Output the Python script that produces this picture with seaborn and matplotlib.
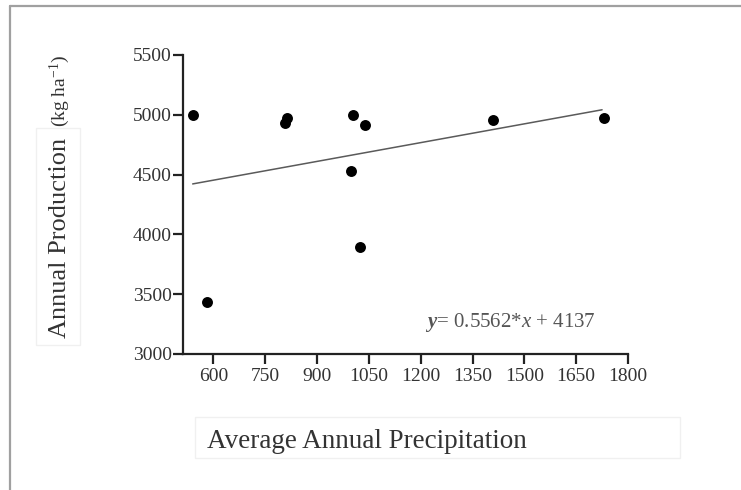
import matplotlib
matplotlib.use("Agg")
import matplotlib.pyplot as plt
import seaborn as sns
import pandas as pd
from matplotlib.patches import Rectangle
from matplotlib.lines import Line2D

# Data
precipitation = [540, 582, 807, 814, 1005, 1038, 997, 1024, 1408, 1730]
production = [5000, 3431, 4931, 4970, 5000, 4917, 4533, 3892, 4958, 4977]
fit_x = [540, 1725]
fit_y = [4422, 5042]
x_ticks = [600, 750, 900, 1050, 1200, 1350, 1500, 1650, 1800]
y_ticks = [3000, 3500, 4000, 4500, 5000, 5500]
equation = r"$\mathbf{y}$= 0.5562*$x$ + 4137"

sns.set_theme(style="white")
plt.rcParams["font.family"] = ["Liberation Serif", "DejaVu Serif"]
plt.rcParams["mathtext.fontset"] = "custom"
plt.rcParams["mathtext.rm"] = "Liberation Serif"
plt.rcParams["mathtext.it"] = "Liberation Serif:italic"
plt.rcParams["mathtext.bf"] = "Liberation Serif:bold:italic"

df = pd.DataFrame({"x": precipitation, "y": production})
fit = pd.DataFrame({"x": fit_x, "y": fit_y})

fig = plt.figure(figsize=(7.41, 4.90), dpi=100)
ax = fig.add_axes([183 / 741, 1 - 354 / 490, (628 - 183) / 741, (354 - 55) / 490])

sns.lineplot(data=fit, x="x", y="y", ax=ax, color="#5a5a5a", linewidth=1.1)
sns.scatterplot(data=df, x="x", y="y", ax=ax, color="black", s=62,
                edgecolor="black", linewidth=0, zorder=3)

ax.set_xlim(512, 1800)
ax.set_ylim(3000, 5500)
ax.set_xticks(x_ticks)
ax.set_yticks(y_ticks)
ax.set_xlabel("")
ax.set_ylabel("")
for s in ["top", "right"]:
    ax.spines[s].set_visible(False)
for s in ["left", "bottom"]:
    ax.spines[s].set_linewidth(1.6)
    ax.spines[s].set_color("#222222")
ax.tick_params(axis="both", which="major", direction="out", length=7, width=1.6,
               color="#222222", labelsize=14, labelcolor="#333333",
               bottom=True, left=True, top=False, right=False)
ax.tick_params(axis="y", pad=1)
ax.tick_params(axis="x", pad=3)

ax.text(425 / 741, 1 - 322 / 490, equation, transform=fig.transFigure,
        fontsize=15, color="#555555", va="center", ha="left")

# Axis titles (as figure text with faint boxes)
fig.text(60 / 741, 1 - 238 / 490, "Annual Production", rotation=90,
         fontsize=19, color="#333333", ha="center", va="center")
fig.text(60 / 741, 1 - 91 / 490, "(kg ha$^{-1}$)", rotation=90,
         fontsize=14, color="#333333", ha="center", va="center")
fig.text(207 / 741, 1 - 441 / 490, "Average Annual Precipitation",
         fontsize=19.5, color="#333333", ha="left", va="center")

fig.patches.append(Rectangle((36 / 741, 1 - 345 / 490), 44 / 741, 217 / 490,
                             transform=fig.transFigure, fill=False,
                             edgecolor="#f0f0f0", linewidth=1))
fig.patches.append(Rectangle((195 / 741, 1 - 458 / 490), 485 / 741, 41 / 490,
                             transform=fig.transFigure, fill=False,
                             edgecolor="#f0f0f0", linewidth=1))

# Outer frame (top and left visible)
fig.lines.append(Line2D([10 / 741, 1], [1 - 6 / 490, 1 - 6 / 490],
                        transform=fig.transFigure, color="#a0a0a0", linewidth=1.6))
fig.lines.append(Line2D([10 / 741, 10 / 741], [0, 1 - 6 / 490],
                        transform=fig.transFigure, color="#a0a0a0", linewidth=1.6))

fig.savefig("out.png", dpi=100)
